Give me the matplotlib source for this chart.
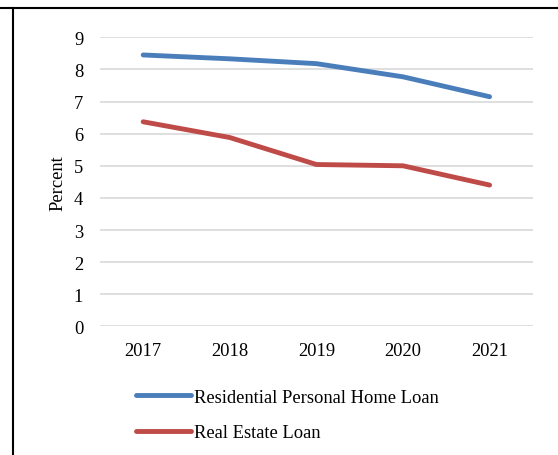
import matplotlib.pyplot as plt
from matplotlib.lines import Line2D

years = ['2017', '2018', '2019', '2020', '2021']
home_loan = [8.45, 8.33, 8.18, 7.77, 7.15]
real_estate = [6.37, 5.88, 5.04, 5.00, 4.40]

plt.rcParams['font.family'] = ['Liberation Serif', 'DejaVu Serif']
plt.rcParams['font.size'] = 13.3

fig = plt.figure(figsize=(5.58, 4.56), dpi=100)
ax = fig.add_axes([0.179, 0.282, 0.776, 0.634])

x = range(len(years))
ax.plot(x, home_loan, color='#4a7ebb', lw=3.5, solid_capstyle='round',
        solid_joinstyle='round', label='Residential Personal Home Loan', zorder=3)
ax.plot(x, real_estate, color='#be4b48', lw=3.5, solid_capstyle='round',
        solid_joinstyle='round', label='Real Estate Loan', zorder=3)

ax.set_xlim(-0.5, 4.5)
ax.set_ylim(0, 9)
ax.set_yticks(range(0, 10))
ax.set_xticks(list(x))
ax.set_xticklabels(years)
ax.yaxis.grid(True, color='#d9d9d9', lw=1.2)
ax.set_axisbelow(True)
for s in ax.spines.values():
    s.set_visible(False)
ax.tick_params(axis='both', length=0)
ax.tick_params(axis='y', pad=12)
ax.tick_params(axis='x', pad=11)
ax.set_ylabel('Percent', labelpad=5)

fig.legend(loc='upper left', bbox_to_anchor=(0.2437, 0.145), frameon=False,
           handlelength=3.0, handletextpad=0.16, labelspacing=0.98,
           borderaxespad=0, borderpad=0)

# frame lines along the top and left edge
fig.add_artist(Line2D([0, 1], [1 - 9 / 456, 1 - 9 / 456], color='black', lw=1.5))
fig.add_artist(Line2D([12.5 / 558, 12.5 / 558], [0, 1 - 9 / 456], color='black', lw=1.5))

fig.savefig('out.png', dpi=100)
